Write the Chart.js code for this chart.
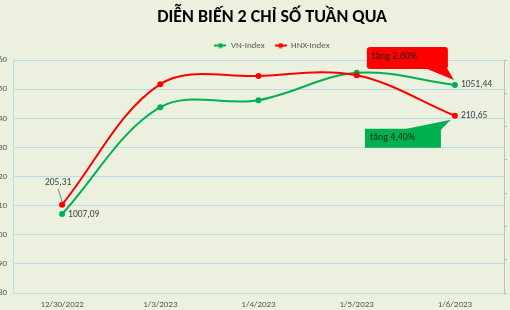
<!DOCTYPE html>
<html><head><meta charset="utf-8">
<script src="https://cdn.jsdelivr.net/npm/chart.js@4"></script>
<style>
html,body{margin:0;padding:0;background:#EBF1DE;overflow:hidden;width:510px;height:310px;}
#wrap{position:absolute;left:-20px;top:0;width:584px;height:310px;}
</style></head><body>
<div id="wrap"><canvas id="c"></canvas></div>
<script>
const categories = ['12/30/2022', '1/3/2023', '1/4/2023', '1/5/2023', '1/6/2023'];
const vnIndex = [1007.09, 1043.8, 1046.2, 1055.6, 1051.44];
const hnxIndex = [205.31, 212.55, 213.04, 213.08, 210.65];
const vnTicks = [980, 990, 1000, 1010, 1020, 1030, 1040, 1050, 1060];
const hnxTicks = [200, 202, 204, 206, 208, 210, 212, 214];
const seriesNames = ['VN-Index', 'HNX-Index'];
const calloutTexts = ['tăng 2,60%', 'tăng 4,40%'];
const titleText = 'DIỄN BIẾN 2 CHỈ SỐ TUẦN QUA';

const FONT = "Carlito, Lato, 'Liberation Sans', sans-serif";
const GREEN = '#00B050', RED = '#FF0000', GRID = '#B7DEE8', TXT = '#595959';

function legendIcon(color) {
  const c = document.createElement('canvas');
  c.width = 12; c.height = 6;
  const x = c.getContext('2d');
  x.strokeStyle = color; x.lineWidth = 2;
  x.beginPath(); x.moveTo(0, 3); x.lineTo(12, 3); x.stroke();
  x.fillStyle = color; x.beginPath(); x.arc(6, 3, 2.5, 0, Math.PI * 2); x.fill();
  return c;
}
const icons = [legendIcon(GREEN), legendIcon(RED)];
const fmt = v => v.toFixed(2).replace('.', ',');

const annotate = {
  id: 'annotate',
  afterDatasetsDraw(chart) {
    const ctx = chart.ctx;
    const vn = chart.getDatasetMeta(0).data, hx = chart.getDatasetMeta(1).data;
    const L = vn.length - 1;
    ctx.save();
    // data labels
    ctx.font = '9.5px ' + FONT; ctx.fillStyle = '#404040'; ctx.textBaseline = 'middle';
    ctx.textAlign = 'left';
    ctx.fillText(fmt(vnIndex[0]), vn[0].x + 6, vn[0].y + 1);
    ctx.fillText(fmt(vnIndex[L]), vn[L].x + 6, vn[L].y);
    ctx.fillText(fmt(hnxIndex[L]), hx[L].x + 6, hx[L].y);
    ctx.textAlign = 'center';
    ctx.fillText(fmt(hnxIndex[0]), hx[0].x - 4, hx[0].y - 22);
    ctx.strokeStyle = '#595959'; ctx.lineWidth = 0.75;
    ctx.beginPath(); ctx.moveTo(hx[0].x - 4, hx[0].y - 16); ctx.lineTo(hx[0].x, hx[0].y - 3); ctx.stroke();
    // red callout (points at VN last)
    const P = vn[L];
    ctx.fillStyle = RED;
    ctx.beginPath();
    ctx.roundRect(P.x - 88, P.y - 38, 81, 22, 3);
    ctx.fill();
    ctx.beginPath();
    ctx.moveTo(P.x - 30, P.y - 17); ctx.lineTo(P.x - 8, P.y - 17); ctx.lineTo(P.x - 1, P.y - 5);
    ctx.closePath(); ctx.fill();
    ctx.fillStyle = '#2a1a1a'; ctx.font = '10px ' + FONT; ctx.textAlign = 'left';
    ctx.fillText(calloutTexts[0], P.x - 83, P.y - 28);
    // green callout (points at HNX last)
    const Q = hx[L];
    ctx.fillStyle = GREEN;
    ctx.fillRect(Q.x - 90, Q.y + 13, 76, 19);
    ctx.beginPath();
    ctx.moveTo(Q.x - 53, Q.y + 14); ctx.lineTo(Q.x - 14, Q.y + 14); ctx.lineTo(Q.x - 4, Q.y + 4);
    ctx.closePath(); ctx.fill();
    ctx.fillStyle = '#1a2a1a';
    ctx.fillText(calloutTexts[1], Q.x - 85, Q.y + 22);
    ctx.restore();
  }
};

new Chart(document.getElementById('c'), {
  type: 'line',
  data: {
    labels: categories,
    datasets: [
      { label: seriesNames[0], data: vnIndex, yAxisID: 'y', borderColor: GREEN, backgroundColor: GREEN,
        borderWidth: 2, pointRadius: 3, pointBackgroundColor: GREEN, pointBorderWidth: 0, tension: 0.35, order: 1 },
      { label: seriesNames[1], data: hnxIndex, yAxisID: 'y2', borderColor: RED, backgroundColor: RED,
        borderWidth: 2, pointRadius: 3, pointBackgroundColor: RED, pointBorderWidth: 0, tension: 0.35, order: 0 }
    ]
  },
  options: {
    responsive: true, maintainAspectRatio: false, animation: false,
    layout: { padding: 0 },
    plugins: {
      tooltip: { enabled: false },
      title: { display: true, text: titleText, color: '#000',
        font: { family: FONT, size: 18, weight: 'bold' }, padding: { top: 7, bottom: 2.4 } },
      legend: { display: true, position: 'top',
        labels: { usePointStyle: true, pointStyleWidth: 12, padding: 10, color: TXT,
          font: { family: FONT, size: 9 },
          generateLabels(chart) {
            const items = Chart.defaults.plugins.legend.labels.generateLabels(chart);
            items.sort((a, b) => a.datasetIndex - b.datasetIndex);
            items.forEach(it => { it.pointStyle = icons[it.datasetIndex]; });
            return items;
          } } }
    },
    scales: {
      x: { offset: true,
        grid: { display: true, drawOnChartArea: false, drawTicks: false },
        border: { display: true, color: GRID },
        ticks: { color: TXT, font: { family: FONT, size: 9 }, padding: 6, maxRotation: 0 },
        afterFit(s) { s.height = 17; } },
      y: { position: 'left', min: vnTicks[0], max: vnTicks[vnTicks.length - 1],
        afterBuildTicks(s) { s.ticks = vnTicks.map(v => ({ value: v })); },
        grid: { color: GRID, drawTicks: false },
        border: { display: true, color: GRID },
        ticks: { color: TXT, font: { family: FONT, size: 9 }, padding: 6 },
        afterFit(s) { s.width = 33; } },
      y2: { position: 'right', min: hnxTicks[0], max: hnxTicks[hnxTicks.length - 1],
        afterBuildTicks(s) { s.ticks = hnxTicks.map(v => ({ value: v })); },
        grid: { drawOnChartArea: false, drawTicks: true, tickLength: 3, color: '#BFBFBF' },
        border: { display: true, color: '#BFBFBF' },
        ticks: { display: false },
        afterFit(s) { s.width = 60; } }
    }
  },
  plugins: [annotate]
});
</script>
</body></html>
